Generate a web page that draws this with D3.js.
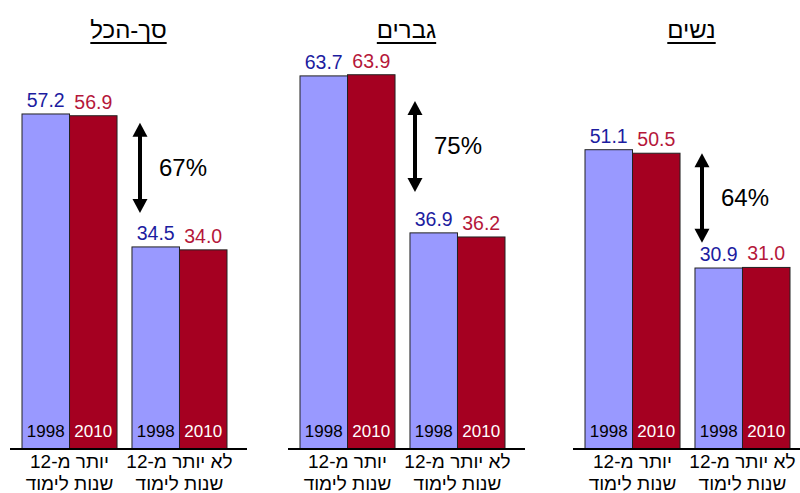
<!DOCTYPE html>
<html><head><meta charset="utf-8">
<script src="https://cdn.jsdelivr.net/npm/d3@7"></script>
<style>body{margin:0;background:#fff}svg{display:block}text{font-family:Arial,"Liberation Sans",sans-serif}</style>
</head><body><div id="chart"></div>
<script>
const panels = ["סך-הכל", "גברים", "נשים"];
const groupLine1 = ["יותר מ-12", "לא יותר מ-12"];
const groupLine2 = ["שנות לימוד", "שנות לימוד"];
const years = ["1998", "2010"];
const values1998 = [[57.2, 34.5], [63.7, 36.9], [51.1, 30.9]];
const values2010 = [[56.9, 34.0], [63.9, 36.2], [50.5, 31.0]];
const gapLabels = ["67%", "75%", "64%"];
const arrowFrom = [55.7, 59.4, 50.5];
const arrowTo = [40.3, 43.9, 35.2];

const W = 800, H = 493;
const svg = d3.select("#chart").append("svg").attr("width", W).attr("height", H);

const baseY = 449;
const y = d3.scaleLinear().domain([0, 70]).range([baseY, baseY - 70 * 5.857]);
const panelLeft = [10, 288, 573];
const panelWidth = 237;

const fill = {"1998": "#9999FF", "2010": "#A50021"};
const valColor = {"1998": "#1c1ca0", "2010": "#b5173a"};
const yearColor = {"1998": "#000", "2010": "#fff"};

panels.forEach((title, p) => {
  const x0 = panelLeft[p];
  const g = svg.append("g");
  const xg = d3.scaleBand().domain([0, 1]).range([x0 + 12, x0 + 217]).paddingInner(0.136);
  const xs = d3.scaleBand().domain(years).range([0, xg.bandwidth()]);

  // title
  const t = g.append("text").attr("x", x0 + panelWidth / 2).attr("y", 38)
    .attr("text-anchor", "middle").attr("direction", "rtl")
    .attr("font-size", 24).attr("fill", "#000").text(title);
  const tw = t.node().getComputedTextLength();
  g.append("line").attr("x1", x0 + panelWidth / 2 - tw / 2).attr("x2", x0 + panelWidth / 2 + tw / 2)
    .attr("y1", 43).attr("y2", 43).attr("stroke", "#000").attr("stroke-width", 2);

  [0, 1].forEach(gi => {
    const vals = {"1998": values1998[p][gi], "2010": values2010[p][gi]};
    years.forEach(yr => {
      const bx = xg(gi) + xs(yr);
      const v = vals[yr];
      g.append("rect").attr("x", bx).attr("y", y(v))
        .attr("width", xs.bandwidth()).attr("height", baseY - y(v))
        .attr("fill", fill[yr]).attr("stroke", "#222").attr("stroke-width", 1);
      g.append("text").attr("x", bx + xs.bandwidth() / 2).attr("y", y(v) - 7)
        .attr("text-anchor", "middle").attr("font-size", 19.5).attr("fill", valColor[yr])
        .text(v.toFixed(1));
      g.append("text").attr("x", bx + xs.bandwidth() / 2).attr("y", 437)
        .attr("text-anchor", "middle").attr("font-size", 17).attr("fill", yearColor[yr])
        .text(yr);
    });
    const cx = xg(gi) + xg.bandwidth() / 2;
    g.append("text").attr("x", cx).attr("y", 468).attr("text-anchor", "middle")
      .attr("direction", "rtl").attr("font-size", 19).attr("fill", "#000").text(groupLine1[gi]);
    g.append("text").attr("x", cx).attr("y", 490).attr("text-anchor", "middle")
      .attr("direction", "rtl").attr("font-size", 19).attr("fill", "#000").text(groupLine2[gi]);
  });

  // axis line
  g.append("line").attr("x1", x0).attr("x2", x0 + panelWidth)
    .attr("y1", baseY).attr("y2", baseY).attr("stroke", "#000").attr("stroke-width", 2);

  // arrow
  const ax = xg(1) + 7 + (p === 0 ? 1 : p === 1 ? -2 : 0);
  const yt = y(arrowFrom[p]), yb = y(arrowTo[p]);
  const hw = 7.5, hh = 14;
  g.append("line").attr("x1", ax).attr("x2", ax).attr("y1", yt + hh - 1).attr("y2", yb - hh + 1)
    .attr("stroke", "#000").attr("stroke-width", 4);
  g.append("path").attr("d", `M${ax},${yt}L${ax + hw},${yt + hh}L${ax - hw},${yt + hh}Z`).attr("fill", "#000");
  g.append("path").attr("d", `M${ax},${yb}L${ax + hw},${yb - hh}L${ax - hw},${yb - hh}Z`).attr("fill", "#000");
  g.append("text").attr("x", ax + 19).attr("y", (yt + yb) / 2 + 8)
    .attr("font-size", 24).attr("fill", "#000").text(gapLabels[p]);
});
</script></body></html>
